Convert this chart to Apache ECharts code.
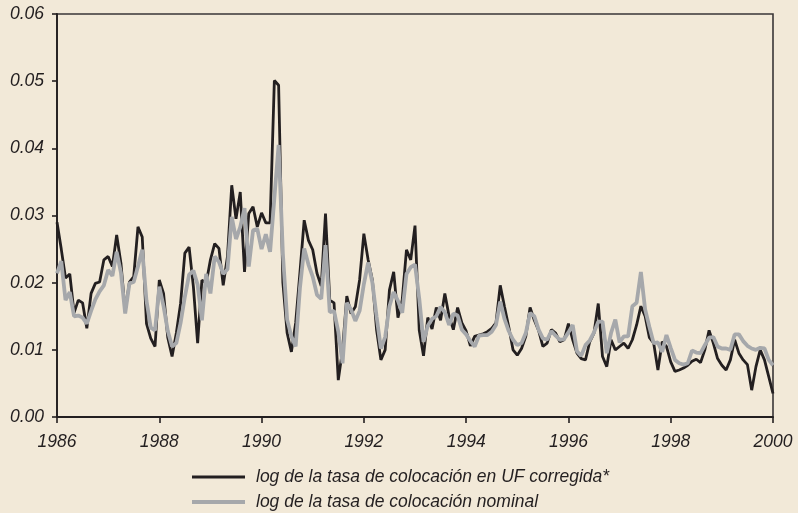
<!DOCTYPE html>
<html>
<head>
<meta charset="utf-8">
<script src="https://cdn.jsdelivr.net/npm/echarts@6/dist/echarts.min.js"></script>
<style>
  html, body { margin: 0; padding: 0; background: #f2e9d8; }
  #chart { width: 798px; height: 513px; }
</style>
</head>
<body>
<div id="chart"></div>
<script>
// monthly observations, Jan 1986 .. Jan 2000
const startYear = 1986
const yearTicks = [1986, 1988, 1990, 1992, 1994, 1996, 1998, 2000]

// log de la tasa de colocación en UF corregida*
const ufCorregida = [
  0.0290, 0.0250, 0.0207, 0.0213, 0.0155, 0.0174, 0.0170, 0.0132, 0.0184, 0.0199, 0.0201, 0.0234,
  0.0239, 0.0224, 0.0271, 0.0229, 0.0157, 0.0201, 0.0209, 0.0283, 0.0268, 0.0139, 0.0117, 0.0105,
  0.0204, 0.0184, 0.0118, 0.0090, 0.0125, 0.0169, 0.0244, 0.0253, 0.0194, 0.0110, 0.0204, 0.0199,
  0.0234, 0.0258, 0.0251, 0.0196, 0.0239, 0.0345, 0.0295, 0.0335, 0.0216, 0.0303, 0.0313, 0.0283,
  0.0304, 0.0289, 0.0289, 0.0501, 0.0494, 0.0200, 0.0125, 0.0097, 0.0140, 0.0215, 0.0293, 0.0263,
  0.0249, 0.0214, 0.0195, 0.0303, 0.0174, 0.0170, 0.0055, 0.0100, 0.0180, 0.0154, 0.0164, 0.0204,
  0.0273, 0.0234, 0.0204, 0.0129, 0.0085, 0.0100, 0.0189, 0.0216, 0.0148, 0.0174, 0.0249, 0.0234,
  0.0285, 0.0129, 0.0091, 0.0148, 0.0131, 0.0163, 0.0144, 0.0184, 0.0150, 0.0130, 0.0163, 0.0140,
  0.0128, 0.0106, 0.0120, 0.0122, 0.0124, 0.0127, 0.0132, 0.0140, 0.0196, 0.0164, 0.0134, 0.0100,
  0.0092, 0.0102, 0.0120, 0.0163, 0.0144, 0.0129, 0.0105, 0.0110, 0.0130, 0.0125, 0.0112, 0.0115,
  0.0139, 0.0115, 0.0095, 0.0087, 0.0085, 0.0112, 0.0125, 0.0169, 0.0090, 0.0075, 0.0115, 0.0100,
  0.0105, 0.0110, 0.0102, 0.0115, 0.0137, 0.0165, 0.0150, 0.0118, 0.0110, 0.0070, 0.0112, 0.0105,
  0.0082, 0.0068, 0.0070, 0.0073, 0.0077, 0.0083, 0.0086, 0.0081, 0.0100, 0.0129, 0.0110, 0.0087,
  0.0077, 0.0070, 0.0085, 0.0115, 0.0095, 0.0085, 0.0078, 0.0040, 0.0075, 0.0100, 0.0085, 0.0060,
  0.0035
]

// log de la tasa de colocación nominal
const nominal = [
  0.0214, 0.0232, 0.0174, 0.0186, 0.0150, 0.0151, 0.0148, 0.0139, 0.0158, 0.0175, 0.0187, 0.0196,
  0.0219, 0.0210, 0.0246, 0.0215, 0.0154, 0.0199, 0.0201, 0.0224, 0.0249, 0.0173, 0.0133, 0.0129,
  0.0194, 0.0165, 0.0128, 0.0105, 0.0110, 0.0140, 0.0179, 0.0212, 0.0218, 0.0197, 0.0144, 0.0213,
  0.0184, 0.0239, 0.0231, 0.0213, 0.0220, 0.0298, 0.0265, 0.0283, 0.0311, 0.0224, 0.0278, 0.0280,
  0.0250, 0.0272, 0.0246, 0.0326, 0.0405, 0.0243, 0.0145, 0.0120, 0.0105, 0.0192, 0.0251, 0.0227,
  0.0209, 0.0182, 0.0176, 0.0256, 0.0156, 0.0158, 0.0127, 0.0080, 0.0170, 0.0160, 0.0143, 0.0158,
  0.0198, 0.0230, 0.0200, 0.0149, 0.0102, 0.0119, 0.0165, 0.0186, 0.0173, 0.0155, 0.0213, 0.0223,
  0.0227, 0.0176, 0.0112, 0.0136, 0.0146, 0.0150, 0.0164, 0.0156, 0.0137, 0.0154, 0.0151, 0.0130,
  0.0123, 0.0113, 0.0105, 0.0121, 0.0122, 0.0122, 0.0127, 0.0137, 0.0172, 0.0146, 0.0128, 0.0115,
  0.0107, 0.0110, 0.0125, 0.0155, 0.0150, 0.0130, 0.0117, 0.0115, 0.0128, 0.0121, 0.0115, 0.0116,
  0.0126, 0.0137, 0.0098, 0.0091, 0.0107, 0.0114, 0.0126, 0.0142, 0.0142, 0.0095, 0.0125, 0.0145,
  0.0111, 0.0120, 0.0120, 0.0165, 0.0170, 0.0216, 0.0160, 0.0134, 0.0110, 0.0111, 0.0097, 0.0122,
  0.0103, 0.0085, 0.0080, 0.0078, 0.0080, 0.0099, 0.0096, 0.0095, 0.0107, 0.0118, 0.0119, 0.0105,
  0.0102, 0.0102, 0.0100, 0.0123, 0.0123, 0.0113, 0.0106, 0.0102, 0.0100, 0.0103, 0.0102, 0.0085,
  0.0077
]

const seriesNames = ['log de la tasa de colocación en UF corregida*', 'log de la tasa de colocación nominal']

const ink = '#231f20'
const grey = '#a6a8ab'
const font = 'Liberation Sans, Arial, sans-serif'

const toPoints = arr => arr.map((v, i) => [startYear + i / 12, v])

const legendText = {
  color: ink,
  fontFamily: font,
  fontStyle: 'italic',
  fontSize: 17.5,
  lineHeight: 20,
  padding: [0, 0, 0, 6]
}

const chart = echarts.init(document.getElementById('chart'))
chart.setOption({
  animation: false,
  backgroundColor: '#f2e9d8',
  grid: {
    left: 57,
    right: 25,
    top: 14,
    bottom: 96,
    show: true,
    borderColor: '#3a3637',
    borderWidth: 1.6,
    backgroundColor: 'transparent'
  },
  // one legend per row so they stack like the original
  legend: [{
    left: 192,
    top: 467,
    padding: 0,
    itemWidth: 53,
    itemHeight: 3,
    icon: 'rect',
    data: [seriesNames[0]],
    textStyle: legendText
  }, {
    left: 192,
    top: 492,
    padding: 0,
    itemWidth: 53,
    itemHeight: 4,
    icon: 'rect',
    data: [seriesNames[1]],
    textStyle: legendText
  }],
  xAxis: {
    type: 'value',
    min: 1986,
    max: 2000,
    interval: 2,
    splitLine: { show: false },
    axisLine: { lineStyle: { color: ink, width: 1.8 } },
    axisTick: { inside: false, length: 6, lineStyle: { color: ink, width: 1.6 } },
    axisLabel: {
      margin: 16,
      color: ink,
      fontFamily: font,
      fontStyle: 'italic',
      fontSize: 17.5,
      formatter: v => yearTicks.includes(v) ? String(v) : ''
    }
  },
  yAxis: {
    type: 'value',
    min: 0,
    max: 0.06,
    interval: 0.01,
    splitLine: { show: false },
    axisLine: { show: true, lineStyle: { color: ink, width: 1.8 } },
    axisTick: { show: true, inside: false, length: 5, lineStyle: { color: ink, width: 1.6 } },
    axisLabel: {
      margin: 13,
      color: ink,
      fontFamily: font,
      fontStyle: 'italic',
      fontSize: 17.5,
      formatter: v => v.toFixed(2)
    }
  },
  series: [{
    name: seriesNames[0],
    type: 'line',
    symbol: 'none',
    itemStyle: { color: ink },
    lineStyle: { color: ink, width: 2.8 },
    data: toPoints(ufCorregida)
  }, {
    name: seriesNames[1],
    type: 'line',
    symbol: 'none',
    itemStyle: { color: grey },
    lineStyle: { color: grey, width: 3.8 },
    data: toPoints(nominal)
  }]
})
</script>
</body>
</html>
